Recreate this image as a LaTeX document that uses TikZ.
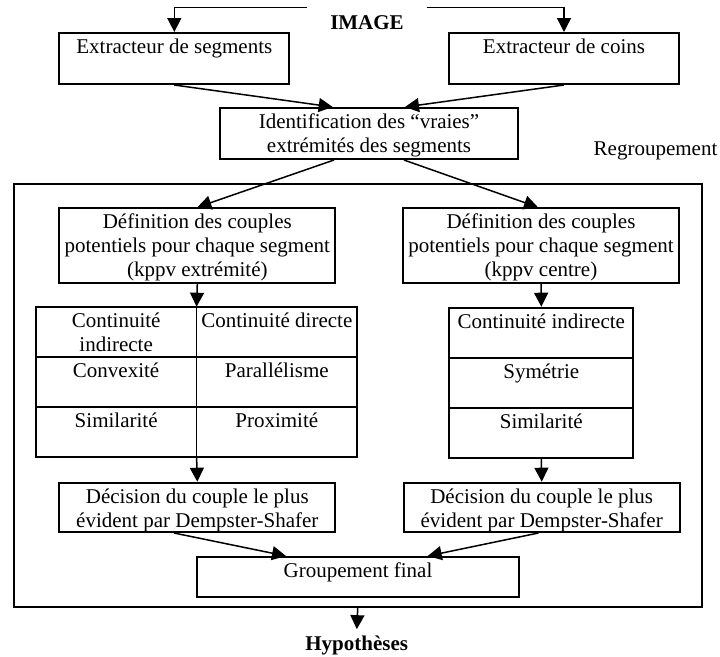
\documentclass[tikz,border=0pt]{standalone}
\usepackage{fontspec}
\setmainfont{Liberation Serif}
\usetikzlibrary{arrows.meta}
\newcommand\bxt[3]{\parbox[c][#2pt][t]{#1pt}{\centering\rule{0pt}{20.5pt}#3}}
\begin{document}
\begin{tikzpicture}[x=1pt,y=-1pt,
  every node/.style={font=\fontsize{21}{24}\selectfont},
  box/.style={draw, line width=2pt, inner sep=0pt, anchor=north west},
  cellplain/.style={inner sep=0pt, anchor=north west},
  conn/.style={line width=1.5pt, -{Triangle[length=14pt,width=14pt]}},
  thinline/.style={line width=1.5pt},
  thickline/.style={line width=2pt},
  titletext/.style={font=\fontsize{21}{24}\selectfont\bfseries, anchor=base}]
\useasboundingbox (0,0) rectangle (720,656);

% title and top connectors
\node[titletext] (img) at (367,29) {IMAGE};
\coordinate (tl) at (306.7,7.3);
\coordinate (tr) at (426.7,7.3);

\node[box] (seg) at (58.3,32) {\bxt{230}{51}{Extracteur de segments}};
\node[box] (coin) at (448,32) {\bxt{230}{51}{Extracteur de coins}};
\node[box] (ident) at (219,107) {\bxt{298}{51}{Identification des “vraies”\\extrémités des segments}};
\node[anchor=base] (regr) at (655.5,155) {Regroupement};

% big group box
\node[draw, line width=2pt, inner sep=0pt, anchor=north west,
      minimum width=688pt, minimum height=423pt] (big) at (12.7,182.7) {};

\node[box] (defl) at (58.3,207.3) {\bxt{276}{74.4}{Définition des couples\\potentiels pour chaque segment\\(kppv extrémité)}};
\node[box] (defr) at (402,207.3) {\bxt{276}{74.4}{Définition des couples\\potentiels pour chaque segment\\(kppv centre)}};

% left table
\node[cellplain] (c11) at (35.7,306.7) {\bxt{160.5}{50}{Continuité\\indirecte}};
\node[cellplain] (c12) at (196.2,306.7) {\bxt{160.8}{50}{Continuité directe}};
\node[cellplain] (c21) at (35.7,356.7) {\bxt{160.5}{50}{Convexité}};
\node[cellplain] (c22) at (196.2,356.7) {\bxt{160.8}{50}{Parallélisme}};
\node[cellplain] (c31) at (35.7,406.7) {\bxt{160.5}{50}{Similarité}};
\node[cellplain] (c32) at (196.2,406.7) {\bxt{160.8}{50}{Proximité}};
\draw[thickline] (c11.north west) rectangle (c32.south east);
\draw[thickline] (c21.north west) -- (c22.north east);
\draw[thickline] (c31.north west) -- (c32.north east);
\draw[thinline] (c11.north east) -- (c31.south east);

% right table
\node[box] (r1) at (448.3,306.7) {\bxt{184}{50}{Continuité indirecte}};
\node[box] (r2) at (448.3,356.7) {\bxt{184}{50}{Symétrie}};
\node[box] (r3) at (448.3,406.7) {\bxt{184}{50}{Similarité}};

\node[box] (decl) at (58.3,481.7) {\bxt{276}{49.3}{Décision du couple le plus\\évident par Dempster-Shafer}};
\node[box] (decr) at (402.7,481.7) {\bxt{276}{49.3}{Décision du couple le plus\\évident par Dempster-Shafer}};

\node[box] (grpf) at (196,556) {\bxt{322}{40}{Groupement final}};

\node[titletext] (hyp) at (356.7,650.7) {Hypothèses};

% connectors
\draw[conn] (tl) -| (seg.north);
\draw[conn] (tr) -| (coin.north);
\draw[conn] (seg.south) -- ([xshift=-36.3pt]ident.north);
\draw[conn] (coin.south) -- ([xshift=36pt]ident.north);
\draw[conn] ([xshift=-35pt]ident.south) -- (defl.north);
\draw[conn] ([xshift=35pt]ident.south) -- ([xshift=-3pt]defr.north);
\draw[conn] (defl.south) -- (c11.north east);
\draw[conn] (c31.south east) -- (decl.north);
\draw[conn] (defr.south) -- (r1.north);
\draw[conn] (r3.south) -- (decr.north);
\draw[conn] ([xshift=-23.3pt]decl.south) -- ([xshift=-72pt]grpf.north);
\draw[conn] ([xshift=-3.3pt]decr.south) -- ([xshift=69.7pt]grpf.north);
\draw[conn, shorten >=3.4pt] (big.south) -- (hyp.north);
\end{tikzpicture}
\end{document}
